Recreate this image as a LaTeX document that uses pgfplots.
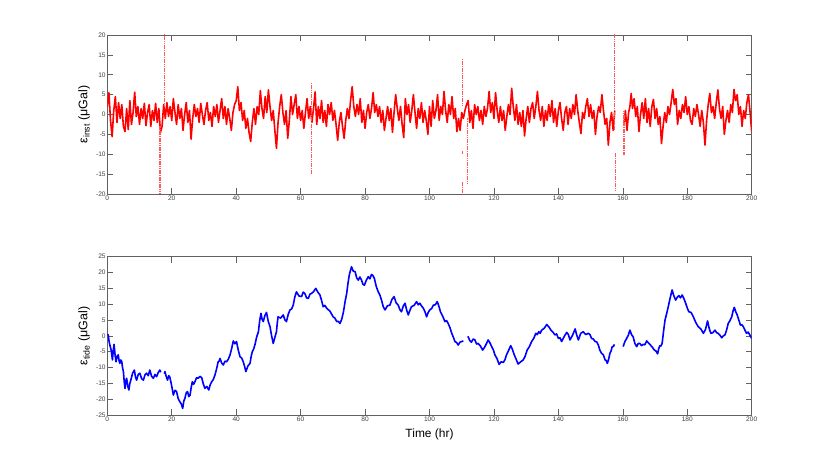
\documentclass[border=0pt]{standalone}
\usepackage{pgfplots}
\pgfplotsset{compat=1.18}
\usepackage{fontspec}
\setmainfont{Liberation Sans}
\definecolor{axgray}{gray}{0.38}
\definecolor{lblgray}{gray}{0.25}
\pgfplotsset{
  myaxis/.style={
    scale only axis, width=644.4bp,
    xmin=0, xmax=200,
    xtick={0,20,...,200},
    axis line style={axgray, line width=0.6bp},
    major tick style={axgray, line width=0.6bp},
    major tick length=6bp,
    tick align=inside,
    tick label style={font=\fontsize{6.6}{7}\selectfont, text=lblgray},
    xticklabel style={inner sep=1.5bp},
    yticklabel style={inner sep=1.5bp},
    /pgf/number format/assume math mode=true,
    unbounded coords=jump,
    anchor=south west,
    every axis y label/.style={at={(axis description cs:-0.036,0.5)}, rotate=90, anchor=center, font=\fontsize{12.5}{13}\selectfont},
  }
}
\begin{document}
\begin{tikzpicture}
\path[use as bounding box] (0,0) rectangle (830bp,467bp);
% ---------------- top axis
\begin{axis}[myaxis, at={(107.3bp,273bp)}, height=159bp,
  ymin=-20, ymax=20, ytick={-20,-15,...,20},
  ylabel={ε\textsubscript{inst} (μGal)}]
\addplot[red, line width=1.6bp, line join=round] coordinates {
(0,2.0)(0.5,5.5)(1,-1.5)(1.5,-5.6)(2,1.0)(2.5,4.5)(3,-2.0)(3.5,3.0)(4,-1.0)(4.5,2.5)(5,-3.0)(5.5,-4.3)(6,1.5)(6.5,-3.8)(7,3.5)(7.5,-2.5)(8,0.5)(8.5,5.6)(9,-0.5)(9.5,2.0)
(10,-2.5)(10.5,1.5)(11,-1.0)(11.5,2.8)(12,-2.8)(12.5,0.5)(13,2.5)(13.5,-3.0)(14,1.0)(14.5,-1.5)(15,2.8)(15.5,-2.0)(16,1.5)(16.5,-4.5)(17,-3.0)(17.5,2.5)(18,-1.0)(18.5,3.0)(19,-0.5)(19.5,2.0)
(20,-1.5)(20.5,4.0)(21,0.5)(21.5,-2.5)(22,2.5)(22.5,-1.0)(23,1.5)(23.5,-4.0)(24,0.0)(24.5,3.0)(25,-2.0)(25.5,1.0)(26,-6.2)(26.5,-1.0)(27,2.5)(27.5,-0.5)(28,1.5)(28.5,-2.0)(29,2.8)(29.5,0.0)
(30,-2.5)(30.5,1.0)(31,3.0)(31.5,-1.5)(32,0.5)(32.5,-3.0)(33,2.0)(33.5,-0.5)(34,2.5)(34.5,-2.0)(35,1.0)(35.5,4.0)(36,-1.0)(36.5,2.0)(37,-2.5)(37.5,1.5)(38,-1.0)(38.5,-4.0)(39,0.5)(39.5,2.5)
(40,3.5)(40.5,7.0)(41,1.0)(41.5,3.0)(42,-1.5)(42.5,1.0)(43,-3.5)(43.5,-1.0)(44,-4.5)(44.5,-6.8)(45,-2.0)(45.5,1.5)(46,-2.5)(46.5,2.0)(47,0.0)(47.5,6.0)(48,1.5)(48.5,-1.0)(49,4.5)(49.5,0.5)
(50,6.2)(50.5,2.0)(51,-1.5)(51.5,1.0)(52,-4.0)(52.5,-8.5)(53,-2.0)(53.5,2.0)(54,5.0)(54.5,0.5)(55,-2.5)(55.5,1.0)(56,-6.0)(56.5,-1.5)(57,4.5)(57.5,0.0)(58,2.5)(58.5,5.0)(59,-1.0)(59.5,2.0)
(60,-1.5)(60.5,1.0)(61,-3.5)(61.5,0.5)(62,4.0)(62.5,-1.0)(63,2.0)(63.5,-2.0)(64,1.5)(64.5,5.7)(65,-2.5)(65.5,2.0)(66,-1.0)(66.5,3.5)(67,-2.0)(67.5,1.0)(68,-3.0)(68.5,2.5)(69,0.0)(69.5,3.0)
(70,-1.5)(70.5,1.0)(71,-2.5)(71.5,-6.5)(72,-2.0)(72.5,0.5)(73,-3.0)(73.5,-6.0)(74,-1.5)(74.5,1.5)(75,-1.0)(75.5,3.5)(76,7.0)(76.5,2.0)(77,-0.5)(77.5,2.5)(78,0.0)(78.5,4.0)(79,-2.0)(79.5,1.0)
(80,-3.5)(80.5,0.5)(81,2.5)(81.5,-1.0)(82,1.5)(82.5,5.5)(83,0.5)(83.5,2.5)(84,-0.5)(84.5,2.0)(85,-2.0)(85.5,1.0)(86,-4.0)(86.5,-1.0)(87,2.0)(87.5,-1.5)(88,1.5)(88.5,-4.5)(89,0.5)(89.5,5.0)
(90,1.5)(90.5,-1.5)(91,2.0)(91.5,-2.5)(92,-5.8)(92.5,4.0)(93,0.0)(93.5,2.5)(94,-2.0)(94.5,1.0)(95,5.0)(95.5,0.5)(96,-3.5)(96.5,1.5)(97,-1.0)(97.5,3.0)(98,-2.0)(98.5,1.0)(99,-1.5)(99.5,-5.0)
(100,2.0)(100.5,-3.0)(101,3.5)(101.5,-1.0)(102,1.0)(102.5,5.0)(103,-1.5)(103.5,2.0)(104,0.0)(104.5,5.8)(105,1.0)(105.5,-2.0)(106,2.5)(106.5,0.0)(107,4.5)(107.5,-1.0)(108,1.5)(108.5,-4.3)(109,-1.0)(109.5,-4.0)
(110,0.5)(110.5,-1.0)(111,1.0)(111.5,2.5)(112,3.5)(112.5,-2.0)(113,1.0)(113.5,-3.5)(114,2.5)(114.5,0.0)(115,2.0)(115.5,-1.5)(116,1.0)(116.5,-2.5)(117,2.0)(117.5,-0.5)(118,1.5)(118.5,5.8)(119,0.5)(119.5,3.0)
(120,-1.0)(120.5,5.5)(121,1.0)(121.5,-2.0)(122,2.0)(122.5,-1.5)(123,1.0)(123.5,-4.0)(124,-0.5)(124.5,2.5)(125,0.0)(125.5,6.6)(126,2.0)(126.5,-1.5)(127,2.5)(127.5,-2.5)(128,0.5)(128.5,-3.0)(129,1.0)(129.5,-5.4)
(130,-1.0)(130.5,2.0)(131,-2.0)(131.5,1.5)(132,3.0)(132.5,-1.0)(133,2.0)(133.5,5.8)(134,1.0)(134.5,-1.5)(135,2.0)(135.5,-3.0)(136,1.0)(136.5,-1.5)(137,2.5)(137.5,-0.5)(138,3.5)(138.5,-2.0)(139,1.5)(139.5,-3.0)
(140,1.0)(140.5,3.0)(141,-1.0)(141.5,-4.0)(142,0.5)(142.5,2.0)(143,-2.5)(143.5,1.5)(144,-1.0)(144.5,2.5)(145,0.0)(145.5,5.0)(146,1.0)(146.5,-2.0)(147,-4.8)(147.5,0.5)(148,-1.0)(148.5,2.0)(149,4.0)(149.5,-0.5)
(150,2.5)(150.5,-1.0)(151,1.0)(151.5,-5.0)(152,-0.5)(152.5,2.0)(153,0.5)(153.5,5.0)(154,1.0)(154.5,-2.5)(155,-1.0)(155.5,-7.7)(156,-2.0)(156.5,0.5)(157,-4.0)(157.5,1.0)
(158.5,nan)
(160.4,-2.0)(160.8,1.0)(161.3,-4.0)(161.8,0.5)(162.2,2.0)(162.6,5.3)(163,1.5)(163.5,4.0)(164,-0.5)(164.5,2.0)(165,-4.3)(165.5,0.0)(166,3.0)(166.5,-1.0)(167,4.0)(167.5,-2.0)(168,1.5)(168.5,-3.0)(169,2.0)(169.5,3.8)
(170,-1.0)(170.5,1.5)(171,-2.5)(171.5,-0.5)(172,-7.3)(172.5,-3.0)(173,0.5)(173.5,-2.0)(174,2.0)(174.5,0.0)(175,3.0)(175.5,6.3)(176,2.5)(176.5,4.0)(177,-2.5)(177.5,1.0)(178,-1.0)(178.5,2.5)(179,0.5)(179.5,4.5)
(180,0.0)(180.5,2.0)(181,-1.5)(181.5,-2.5)(182,1.5)(182.5,-0.5)(183,2.5)(183.5,0.0)(184,-3.0)(184.5,1.0)(185,-2.0)(185.5,-7.7)(186,-1.5)(186.5,2.5)(187,5.3)(187.5,0.5)(188,2.0)(188.5,-1.0)(189,3.0)(189.5,6.2)
(190,1.5)(190.5,-1.0)(191,2.0)(191.5,-5.0)(192,-1.5)(192.5,1.0)(193,-2.0)(193.5,2.5)(194,0.5)(194.5,6.3)(195,3.5)(195.5,5.0)(196,0.0)(196.5,2.0)(197,-3.0)(197.5,1.0)(198,-1.0)(198.5,3.0)(199,5.0)(199.5,0.5)(200,-4.3)
};
% spikes (dotted vertical excursions)
\addplot[red!65, line width=1.4bp, dash pattern=on 1.6bp off 0.7bp] coordinates {
(16.4,-3)(16.4,-22) (16.9,nan) (17.7,2)(17.7,22) (18,nan)
(63.4,8)(63.4,-15) (64,nan)
(110.3,14)(110.3,2) (110.31,nan) (110.3,-9.2)(110.3,-10) (110.32,nan) (110.3,-17)(110.3,-21) (111,nan)
(111.8,-1)(111.8,-17.7) (112,nan)
(157.5,22)(157.5,-4) (157.6,nan) (157.7,-9.7)(157.7,-19.2) (158,nan)
(160.4,1)(160.4,-10)
};
\end{axis}
% ---------------- bottom axis
\begin{axis}[myaxis, at={(107.3bp,52bp)}, height=158.3bp,
  ymin=-25, ymax=25, ytick={-25,-20,...,25},
  ylabel={ε\textsubscript{tide} (μGal)},
  xlabel={Time (hr)},
  xlabel style={at={(axis description cs:0.5,-0.12)}, anchor=center, font=\fontsize{12}{13}\selectfont}]
\addplot[blue, line width=1.6bp, line join=round] coordinates {
(0.0,0.5)(0.3,0.3)(0.55,-1.8)(0.8,-2.9)(1.2,-4.5)(1.6,-7.6)(1.85,-4.6)(2.1,-2.7)(2.4,-5.9)(2.7,-8.2)(3.05,-6.5)(3.4,-6.0)(3.65,-7.8)(3.9,-8.7)(4.2,-7.6)(4.5,-8.2)(4.75,-10.2)(5.0,-11.3)(5.25,-14.5)(5.5,-16.6)(5.75,-14.2)(6.0,-13.4)(6.35,-15.9)(6.7,-17.1)(7.0,-15.0)(7.3,-14.0)(7.85,-11.8)(8.4,-10.8)(8.75,-13.0)(9.1,-14.0)(9.6,-12.2)(10.1,-11.8)(10.65,-13.5)(11.2,-14.0)(11.7,-12.3)(12.2,-11.8)(12.7,-12.6)(13.2,-10.8)(13.75,-12.8)(14.3,-13.4)(14.8,-12.2)(15.3,-12.9)(15.8,-11.6)(16.3,-10.8)(16.6,-11.5)
(17.2,nan)
(17.7,-12.0)(17.9,-11.3)(18.3,-12.9)(18.7,-14.0)(19.05,-12.6)(19.4,-13.0)(19.95,-15.6)(20.5,-18.7)(21.0,-17.2)(21.5,-17.6)(22.0,-19.8)(22.5,-20.8)(22.95,-21.5)(23.4,-22.9)(23.75,-20.6)(24.1,-19.7)(24.5,-18.0)(24.9,-17.6)(25.3,-19.2)(25.7,-18.7)(26.05,-16.2)(26.4,-14.5)(26.8,-15.3)(27.2,-14.5)(27.7,-13.2)(28.2,-13.4)(28.75,-12.8)(29.3,-13.2)(29.8,-15.2)(30.3,-16.6)(30.9,-16.0)(31.5,-17.1)(31.95,-15.4)(32.4,-14.5)(32.9,-13.8)(33.4,-12.4)(33.9,-10.5)(34.4,-8.2)(34.7,-8.0)(35.0,-7.1)(35.5,-8.6)(36.0,-9.2)(36.5,-8.0)(37.0,-8.2)(37.55,-7.4)(38.1,-6.0)(38.6,-4.0)(39.1,-1.6)(39.6,-2.5)(40.1,-1.8)(40.65,-4.5)(41.2,-6.6)(41.7,-7.0)(42.2,-8.2)(42.6,-9.6)(43.0,-11.3)(43.65,-9.5)(44.3,-8.7)(44.65,-6.5)(45.0,-5.0)(45.4,-4.2)(45.8,-2.9)(46.35,-0.4)(46.9,1.3)(47.3,4.8)(47.7,7.1)(48.05,5.2)(48.4,4.5)(48.9,6.4)(49.4,7.4)(49.95,4.6)
(50.5,2.9)(51.0,0.0)(51.5,-2.4)(52.0,-0.5)(52.5,1.3)(52.75,4.0)(53.0,6.0)(53.8,5.6)(54.6,6.6)(55.1,5.1)(55.6,4.5)(56.15,6.8)(56.7,8.2)(57.2,8.5)(57.7,9.7)(58.2,12.3)(58.7,13.9)(59.5,12.6)(60.3,12.4)(60.8,13.8)(61.3,13.4)(61.85,12.0)(62.4,11.8)(62.9,13.2)(63.4,13.4)(64.05,14.0)(64.7,15.0)(65.35,13.8)(66.0,12.9)(66.5,11.2)(67.0,9.2)(67.55,9.6)(68.1,8.7)(69.1,7.8)(70.1,6.0)(70.65,5.6)(71.2,4.5)(71.7,4.6)(72.2,3.9)(72.75,5.2)(73.3,7.6)(73.8,10.8)(74.3,13.4)(74.7,16.6)(75.1,19.2)(75.45,20.6)(75.8,21.8)(76.35,20.4)(76.9,20.3)(77.4,18.3)(77.9,17.6)(78.4,18.6)(78.9,17.6)(79.35,16.3)(79.8,16.0)(80.4,17.6)(81.0,18.7)(81.5,18.0)(82.0,19.4)(82.45,19.0)(82.9,18.1)(83.5,15.5)(84.1,13.9)(84.6,12.9)(85.1,11.3)(85.65,9.2)(86.2,8.2)(86.95,9.5)(87.7,9.7)(88.35,11.5)(89.0,12.4)(89.65,10.4)(90.3,9.7)(90.8,8.3)(91.3,7.6)(91.85,9.4)(92.4,10.3)(92.9,8.2)(93.4,6.6)(93.9,8.0)(94.4,9.2)(95.2,9.6)(96.0,10.8)(96.5,9.8)(97.0,10.3)(97.55,9.4)(98.1,8.7)(98.6,7.6)(99.1,6.0)(99.6,7.4)
(100.1,8.2)(100.65,8.6)(101.2,9.7)(101.8,9.8)(102.4,10.8)(102.9,9.4)(103.4,7.6)(104.1,6.2)(104.8,4.5)(105.3,4.8)(105.8,3.9)(106.35,2.6)(106.9,0.8)(107.4,-0.4)(107.9,-1.8)(108.4,-2.1)(108.9,-2.9)(109.45,-2.0)(110.0,-1.8)(110.5,-1.6)
(111.2,nan)
(111.9,-0.5)(112.0,-0.3)(112.5,-1.5)(113.0,-2.0)(113.55,-1.0)(114.1,-1.3)(114.6,-2.6)(115.1,-2.4)(115.8,-3.2)(116.5,-4.5)(117.1,-3.6)(117.7,-2.4)(118.2,-1.3)(118.75,-2.2)(119.3,-3.4)(119.8,-4.4)(120.3,-6.0)(120.95,-7.2)(121.6,-9.0)(122.25,-8.2)(122.9,-8.4)(123.4,-7.6)(123.9,-6.0)(124.55,-4.6)(125.2,-3.1)(125.75,-4.3)(126.3,-6.0)(126.9,-7.4)(127.5,-8.9)(128.3,-8.2)(129.1,-7.6)(129.7,-6.4)(130.3,-4.5)(131.0,-3.4)(131.7,-1.8)(132.35,-0.8)(133.0,0.8)(133.45,0.4)(133.9,1.3)(134.35,0.8)(134.8,1.8)(135.6,2.4)(136.4,3.6)(137.05,2.8)(137.7,1.8)(138.3,1.2)(138.9,0.3)(139.45,0.6)(140.0,-0.8)(140.5,-0.6)(141.0,-1.8)(141.8,-0.2)(142.6,1.1)(143.1,0.4)(143.6,-1.3)(144.4,0.2)(145.2,2.2)(145.7,0.2)(146.2,-1.3)(146.95,0.8)(147.7,1.3)(148.5,0.4)(149.3,0.8)(149.8,0.4)
(150.3,-0.8)(150.85,-1.0)(151.4,-1.8)(151.9,-1.9)(152.4,-2.9)(152.9,-4.6)(153.4,-5.5)(153.95,-6.0)(154.5,-7.6)(154.85,-7.8)(155.2,-8.7)(155.6,-7.4)(156.0,-5.5)(156.35,-4.8)(156.7,-3.4)(157.05,-3.4)(157.4,-2.7)
(158.8,nan)
(160.1,-3.4)(160.65,-1.8)(161.2,-0.8)(161.7,0.2)(162.2,1.8)(162.7,0.4)(163.2,-0.3)(163.75,-2.4)(164.3,-3.4)(164.8,-2.4)(165.3,-2.4)(165.8,-3.1)(166.3,-2.7)(166.85,-2.8)(167.4,-1.6)(167.9,-2.2)(168.4,-2.7)(169.1,-3.5)(169.8,-4.5)(170.3,-4.8)(170.8,-5.7)(171.15,-4.0)(171.5,-3.1)(171.85,-3.2)(172.2,-2.4)(172.65,1.5)(173.1,5.0)(173.6,7.0)(174.1,9.2)(174.7,12.0)(175.3,14.5)(175.85,12.6)(176.4,11.3)(176.9,12.2)(177.4,12.7)(177.9,12.0)(178.4,12.9)(178.95,11.8)(179.5,10.3)(180.0,8.8)(180.5,7.6)(181.2,7.4)(181.9,6.0)(182.65,4.2)(183.4,2.9)(184.2,2.2)(185.0,0.8)(185.65,2.0)(186.3,4.7)(186.8,2.4)(187.3,0.8)(187.95,1.0)(188.6,1.8)(189.1,1.0)(189.6,0.8)(190.15,0.2)(190.7,-0.6)(191.2,0.0)(191.7,0.3)(192.2,1.8)(192.7,3.9)(193.25,4.8)(193.8,6.0)(194.2,7.8)(194.6,9.0)(195.05,7.6)(195.5,6.6)(196.0,5.0)(196.5,3.4)(196.95,3.5)(197.4,2.9)(197.9,1.8)(198.4,0.8)(198.9,1.2)(199.4,0.3)(200.0,-0.8)
};
\end{axis}
\end{tikzpicture}
\end{document}
